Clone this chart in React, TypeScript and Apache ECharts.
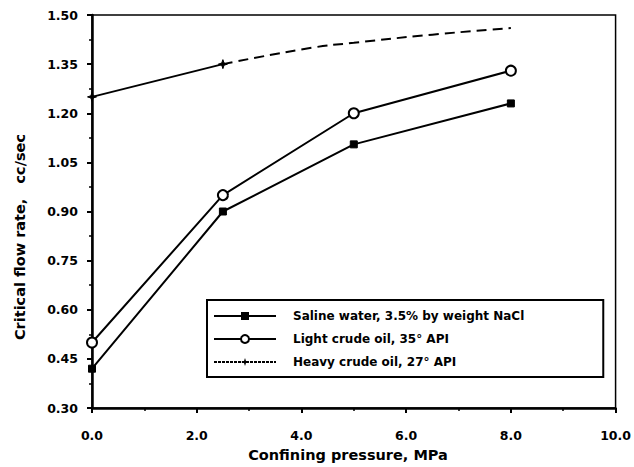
import React, { useEffect, useRef } from "react";
import * as echarts from "echarts";

const salineX = [0, 2.5, 5, 8];
const salineY = [0.42, 0.9, 1.105, 1.23];
const lightX = [0, 2.5, 5, 8];
const lightY = [0.5, 0.95, 1.2, 1.33];
const heavyX = [0, 2.5];
const heavyY = [1.25, 1.35];
const heavyDashX = [2.5, 4.2, 5, 6.5, 8];
const heavyDashY = [1.35, 1.4, 1.415, 1.44, 1.46];

const seriesNames = [
  "Saline water, 3.5% by weight NaCl",
  "Light crude oil, 35° API",
  "Heavy crude oil, 27° API",
];

const xTitle = "Confining pressure, MPa";
const yTitle = "Critical flow rate,   cc/sec";

const pairs = (xs: number[], ys: number[]) => xs.map((x, i) => [x, ys[i]]);

const starPath = "path://M0,4L3,3L4,0L5,3L8,4L5,5L4,8L3,5Z";

const FONT = "DejaVu Sans";

export default function App() {
  const ref = useRef<HTMLDivElement>(null);
  useEffect(() => {
    const chart = echarts.init(ref.current!, null, { renderer: "svg" });
    chart.setOption({
      animation: false,
      backgroundColor: "#fff",
      grid: {
        left: 92,
        top: 15,
        right: 17,
        bottom: 59,
        show: true,
        borderColor: "#000",
        borderWidth: 1.5,
      },
      xAxis: {
        type: "value",
        min: 0,
        max: 10,
        interval: 2,
        axisLine: { lineStyle: { color: "#000", width: 2.5 } },
        axisTick: { length: 5, lineStyle: { color: "#000", width: 2 } },
        minorTick: { show: true, splitNumber: 2, length: 3, lineStyle: { color: "#000", width: 1.5 } },
        splitLine: { show: false },
        axisLabel: {
          color: "#000",
          fontFamily: FONT,
          fontWeight: "bold",
          fontSize: 12.5,
          margin: 21,
          formatter: (v: number) => v.toFixed(1),
        },
      },
      yAxis: {
        type: "value",
        min: 0.3,
        max: 1.5,
        interval: 0.15,
        axisLine: { lineStyle: { color: "#000", width: 2.5 } },
        axisTick: { length: 5, lineStyle: { color: "#000", width: 2 } },
        minorTick: { show: true, splitNumber: 2, length: 3, lineStyle: { color: "#000", width: 1.5 } },
        splitLine: { show: false },
        axisLabel: {
          color: "#000",
          fontFamily: FONT,
          fontWeight: "bold",
          fontSize: 12.5,
          margin: 14,
          formatter: (v: number) => v.toFixed(2),
        },
      },
      legend: {
        orient: "vertical",
        left: 207,
        top: 300,
        padding: [10, 79, 9, 6],
        itemGap: 11,
        itemWidth: 62,
        itemHeight: 10,
        borderColor: "#000",
        borderWidth: 2,
        backgroundColor: "#fff",
        textStyle: {
          color: "#000",
          fontFamily: FONT,
          fontWeight: "bold",
          fontSize: 12,
          padding: [0, 0, 0, 12],
        },
        data: [
          { name: seriesNames[0] },
          { name: seriesNames[1] },
          { name: seriesNames[2], lineStyle: { type: [3, 1] } },
        ],
      },
      graphic: [
        {
          type: "text",
          x: 20,
          y: 237,
          rotation: Math.PI / 2,
          style: {
            text: yTitle,
            fill: "#000",
            font: `bold 14.5px "${FONT}"`,
            textAlign: "center",
            textVerticalAlign: "middle",
          },
        },
        {
          type: "text",
          x: 348,
          y: 455,
          style: {
            text: xTitle,
            fill: "#000",
            font: `bold 14.5px "${FONT}"`,
            textAlign: "center",
            textVerticalAlign: "middle",
          },
        },
      ],
      series: [
        {
          name: seriesNames[0],
          type: "line",
          data: pairs(salineX, salineY),
          symbol: "rect",
          symbolSize: 7,
          lineStyle: { color: "#000", width: 2 },
          itemStyle: { color: "#000", borderColor: "#000" },
          z: 3,
        },
        {
          name: seriesNames[1],
          type: "line",
          data: pairs(lightX, lightY),
          symbol: "circle",
          symbolSize: 10,
          lineStyle: { color: "#000", width: 2 },
          itemStyle: { color: "#fff", borderColor: "#000", borderWidth: 2 },
          z: 3,
        },
        {
          name: seriesNames[2],
          type: "line",
          data: pairs(heavyX, heavyY),
          symbol: starPath,
          symbolSize: 9,
          lineStyle: { color: "#000", width: 2 },
          itemStyle: { color: "#000", borderColor: "#000" },
          z: 3,
        },
        {
          name: "heavy-extension",
          type: "line",
          data: pairs(heavyDashX, heavyDashY),
          smooth: true,
          showSymbol: false,
          symbol: "none",
          lineStyle: { color: "#000", width: 2, type: [10, 6] },
          z: 2,
        },
      ],
    });
    return () => chart.dispose();
  }, []);
  return <div ref={ref} style={{ width: 634, height: 467, position: "absolute", left: 0, top: 0 }} />;
}
